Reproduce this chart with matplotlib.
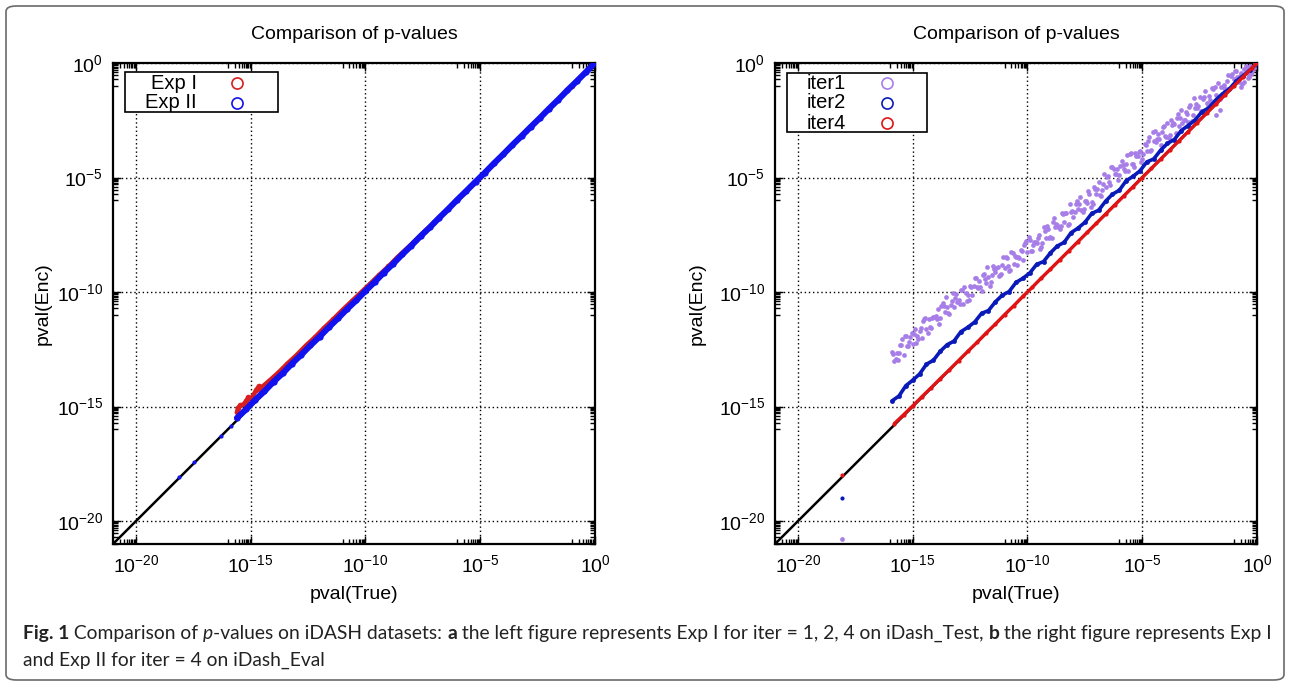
import numpy as np
import matplotlib
matplotlib.use("Agg")
import matplotlib.pyplot as plt
from matplotlib.patches import Rectangle, FancyBboxPatch
from matplotlib.ticker import FixedLocator, FixedFormatter, NullFormatter

plt.rcParams['font.family'] = ['Liberation Sans', 'DejaVu Sans']
plt.rcParams['mathtext.fontset'] = 'custom'
plt.rcParams['mathtext.rm'] = 'Liberation Sans'
plt.rcParams['mathtext.it'] = 'Liberation Sans:italic'
plt.rcParams['mathtext.bf'] = 'Liberation Sans:bold'

# ---------------- data (log10 of p-values) ----------------
tick_exponents = [-20, -15, -10, -5, 0]
axis_limit_exp = [-21, 0]
reference_line_exp = [-21, 0]

# Left panel: Exp I (red) and Exp II (blue)
exp1_x = [-15.6, -15.55, -15.45, -15.3, -15.2, -15.1, -15.0, -14.75, -14.65, -14.6, -14.2, -13.8,
          -13.4, -13.0, -12.6, -12.2, -11.8, -11.4, -11.0, -10.6, -10.2, -9.8, -9.4, -9.0,
          -8.6, -8.2, -7.8, -7.4, -7.0, -6.0, -5.0, -4.0, -3.0, -2.0, -1.0, 0.0]
exp1_y = [-15.25, -15.05, -14.95, -14.9, -14.75, -14.6, -14.68, -14.27, -14.12, -14.22, -13.88, -13.52,
          -13.12, -12.75, -12.34, -11.97, -11.56, -11.18, -10.78, -10.4, -10.02, -9.64, -9.25, -8.88,
          -8.47, -8.1, -7.72, -7.34, -6.95, -5.97, -4.98, -3.98, -2.99, -1.99, -1.0, 0.0]

exp2_x = [-15.6, -15.2, -14.8, -14.4, -14.0, -13.6, -13.2, -12.8, -12.4, -12.0, -11.6, -11.2,
          -10.8, -10.4, -10.0, -9.6, -9.2, -8.8, -8.4, -8.0, -7.6, -7.2, -6.8, -6.4, -6.0,
          -5.6, -5.2, -4.8, -4.4, -4.0, -3.6, -3.2, -2.8, -2.4, -2.0, -1.6, -1.2, -0.8, -0.4, 0.0]
exp2_y = [-15.5, -15.12, -14.7, -14.33, -13.91, -13.54, -13.12, -12.74, -12.33, -11.95, -11.54, -11.15,
          -10.74, -10.36, -9.95, -9.56, -9.15, -8.77, -8.36, -7.97, -7.56, -7.18, -6.77, -6.38, -5.97,
          -5.58, -5.18, -4.79, -4.38, -3.99, -3.58, -3.19, -2.79, -2.4, -1.99, -1.6, -1.19, -0.8, -0.4, 0.0]
exp2_isolated_x = [-18.12, -17.47, -16.29, -15.85]
exp2_isolated_y = [-18.08, -17.43, -16.3, -15.86]

# Right panel: iter1 (purple), iter2 (blue), iter4 (red)
iter1_x = [-15.9, -15.7, -15.5, -15.3, -15.1, -14.9, -14.7, -14.5, -14.3, -14.1, -13.9, -13.7, -13.5, -13.3,
           -13.1, -12.9, -12.7, -12.5, -12.3, -12.1, -11.9, -11.7, -11.5, -11.3, -11.1, -10.9, -10.7, -10.5,
           -10.3, -10.1, -9.9, -9.7, -9.5, -9.3, -9.1, -8.9, -8.7, -8.5, -8.3, -8.1, -7.9, -7.7, -7.5, -7.3,
           -7.1, -6.9, -6.7, -6.5, -6.3, -6.1, -5.9, -5.7, -5.5, -5.3, -5.1, -4.9, -4.7, -4.5, -4.3, -4.1,
           -3.9, -3.7, -3.5, -3.3, -3.1, -2.9, -2.7, -2.5, -2.3, -2.1, -1.9, -1.7, -1.5, -1.3, -1.1, -0.9,
           -0.7, -0.5, -0.3, -0.1,
           -15.8, -15.6, -15.4, -15.2, -15.0, -14.8, -14.6, -14.4, -14.2, -14.0, -13.8, -13.6, -13.4, -13.2,
           -13.0, -12.8, -12.6, -12.4, -12.2, -12.0, -11.8, -11.6, -11.4, -11.2, -11.0, -10.8, -10.6, -10.4,
           -10.2, -10.0, -9.8, -9.6, -9.4, -9.2, -9.0, -8.8, -8.6, -8.4, -8.2, -8.0, -7.8, -7.6, -7.4, -7.2,
           -7.0, -6.8, -6.6, -6.4, -6.2, -6.0, -5.8, -5.6, -5.4, -5.2, -5.0, -4.8, -4.6, -4.4, -4.2, -4.0,
           -3.8, -3.6, -3.4, -3.2, -3.0, -2.8, -2.6, -2.4, -2.2, -2.0, -1.8, -1.6, -1.4, -1.2, -1.0, -0.8,
           -0.6, -0.4, -0.2,
           -15.85, -15.65, -15.45, -15.25, -15.05, -14.85, -14.65, -14.45, -14.25, -14.05, -13.85, -13.65,
           -13.45, -13.25, -13.05, -12.85, -12.65, -12.45, -12.25, -12.05, -11.85, -11.65, -11.45, -11.25,
           -11.05, -10.85, -10.65, -10.45, -10.25, -10.05, -9.85, -9.65, -9.45, -9.25, -9.05, -8.85, -8.65,
           -8.45, -8.25, -8.05, -7.85, -7.65, -7.45, -7.25, -7.05, -6.85, -6.65, -6.45, -6.25, -6.05, -5.85,
           -5.65, -5.45, -5.25, -5.05, -4.85, -4.65, -4.45, -4.25, -4.05, -3.85, -3.65, -3.45, -3.25, -3.05,
           -2.85, -2.65, -2.45, -2.25, -2.05, -1.85, -1.65, -1.45, -1.25, -1.05, -0.85, -0.65, -0.45, -0.25,
           -15.75, -15.55, -15.35, -15.15, -14.95, -14.75, -14.55, -14.35, -14.15, -13.95, -13.75, -13.55,
           -13.35, -13.15, -12.95, -12.75, -12.55, -12.35, -12.15, -11.95, -11.75, -11.55, -11.35, -11.15,
           -10.95, -10.75, -10.55, -10.35, -10.15, -9.95, -9.75, -9.55, -9.35, -9.15, -8.95, -8.75, -8.55,
           -8.35, -8.15, -7.95, -7.75, -7.55, -7.35, -7.15, -6.95, -6.75, -6.55, -6.35, -6.15, -5.95, -5.75,
           -5.55, -5.35, -5.15, -4.95, -4.75, -4.55, -4.35, -4.15, -3.95, -3.75, -3.55, -3.35, -3.15, -2.95,
           -2.75, -2.55, -2.35, -2.15, -1.95, -1.75, -1.55, -1.35, -1.15, -0.95, -0.75, -0.55, -0.35, -0.15,
           -1.8, -1.6, -0.7, -0.55, -0.35, -18.08]
iter1_y = [-12.6, -12.65, -12.3, -11.92, -11.98, -11.63, -11.72, -11.19, -11.17, -11.07, -10.73, -10.46, -10.65, -10.38,
           -10.08, -9.92, -10.02, -9.72, -9.39, -9.5, -9.21, -9.34, -8.87, -8.89, -8.84, -8.53, -8.26, -8.45,
           -8.18, -7.88, -7.72, -7.81, -7.5, -7.16, -7.26, -6.95, -7.06, -6.57, -6.57, -6.5, -6.17, -5.87, -6.03, -5.73,
           -5.4, -5.21, -5.27, -4.93, -4.56, -4.63, -4.3, -4.41, -3.92, -3.92, -3.85, -3.52, -3.23, -3.4, -3.11, -2.79,
           -2.62, -2.71, -2.4, -2.06, -2.16, -1.85, -1.97, -1.49, -1.5, -1.44, -1.13, -0.86, -1.05, -0.78, -0.48, -0.33,
           -0.44, -0.15, -0.11, -0.03,
           -13.02, -12.65, -12.75, -12.35, -12.28, -11.91, -12.02, -11.61, -11.55, -11.06, -11.15, -10.87, -10.98, -10.67,
           -10.35, -10.5, -10.15, -10.13, -9.8, -9.95, -9.59, -9.57, -9.13, -9.24, -8.97, -9.08, -8.77, -8.45,
           -8.6, -8.25, -8.22, -7.88, -8.02, -7.64, -7.6, -7.14, -7.23, -6.94, -7.04, -6.72, -6.37, -6.49, -6.11, -6.06,
           -5.7, -5.82, -5.41, -5.34, -4.85, -4.91, -4.61, -4.71, -4.39, -4.06, -4.2, -3.83, -3.79, -3.44, -3.57, -3.18,
           -3.14, -2.68, -2.77, -2.48, -2.58, -2.27, -1.95, -2.1, -1.75, -1.73, -1.4, -1.55, -1.18, -1.15, -0.7, -0.81,
           -0.54, -0.66, -0.36,
           -12.7, -12.95, -12.03, -12.37, -11.77, -12.23, -11.59, -11.12, -11.51, -11.1, -11.38, -10.63,
           -10.93, -10.06, -10.45, -9.9, -10.41, -9.8, -9.38, -9.8, -9.44, -9.75, -9.01, -9.32,
           -8.46, -8.85, -8.3, -8.81, -8.2, -7.78, -8.2, -7.82, -8.11, -7.35, -7.64, -6.76, -7.14,
           -6.58, -7.08, -6.46, -6.02, -6.41, -6.01, -6.28, -5.5, -5.77, -4.86, -5.21, -4.62, -5.09, -4.45,
           -4.02, -4.43, -4.05, -4.34, -3.57, -3.85, -2.96, -3.33, -2.76, -3.26, -2.64, -2.21, -2.62, -2.24,
           -2.53, -1.78, -2.08, -1.21, -1.6, -1.05, -1.56, -0.95, -0.53, -0.95, -0.59, -0.9, -0.21, -0.47,
           -12.93, -12.33, -11.9, -12.2, -11.85, -12.06, -11.28, -11.8, -11.15, -11.19, -10.61, -10.23,
           -10.58, -10.28, -10.53, -9.78, -10.35, -9.73, -9.81, -9.26, -8.89, -9.25, -8.96, -9.22,
           -8.48, -9.05, -8.43, -8.51, -7.96, -7.58, -7.93, -7.62, -7.86, -7.1, -7.66, -7.03, -7.1,
           -6.54, -6.15, -6.49, -6.17, -6.39, -5.61, -6.15, -5.5, -5.55, -4.96, -4.54, -4.85, -4.51, -4.73,
           -3.97, -4.53, -3.9, -3.97, -3.4, -3.0, -3.33, -3.01, -3.24, -2.48, -3.04, -2.41, -2.48, -1.92,
           -1.54, -1.89, -1.59, -1.84, -1.09, -1.66, -1.04, -1.12, -0.57, -0.35, -0.56, -0.27, -0.53, -0.2,
           -2.25, -2.05, -1.05, -0.85, -0.6, -20.78]

iter2_x = [-15.9, -15.6, -15.3, -15.0, -14.7, -14.4, -14.1, -13.8, -13.5, -13.2, -12.9, -12.6, -12.3, -12.0,
           -11.7, -11.4, -11.1, -10.8, -10.5, -10.2, -9.9, -9.6, -9.3, -9.0, -8.7, -8.4, -8.1, -7.8, -7.5,
           -7.2, -6.9, -6.6, -6.3, -6.0, -5.7, -5.4, -5.1, -4.8, -4.5, -4.2, -3.9, -3.6, -3.3, -3.0, -2.7,
           -2.4, -2.1, -1.8, -1.5, -1.2, -0.9, -0.6, -0.3, 0.0]
iter2_y = [-14.75, -14.54, -14.09, -13.85, -13.58, -13.15, -12.98, -12.59, -12.3, -12.14, -11.73, -11.54, -11.31, -10.93,
           -10.81, -10.43, -10.14, -9.98, -9.58, -9.4, -9.17, -8.79, -8.67, -8.29, -7.99, -7.83, -7.41, -7.21, -6.96,
           -6.57, -6.43, -6.04, -5.73, -5.56, -5.14, -4.95, -4.71, -4.32, -4.19, -3.81, -3.51, -3.34, -2.95, -2.73, -2.49,
           -2.13, -1.96, -1.62, -1.34, -1.13, -0.79, -0.55, -0.3, -0.02]
iter2_isolated_x = [-18.08]
iter2_isolated_y = [-18.98]

iter4_x = [-15.8, -15.4, -15.0, -14.6, -14.2, -13.8, -13.4, -13.0, -12.6, -12.2, -11.8, -11.4, -11.0, -10.6,
           -10.2, -9.8, -9.4, -9.0, -8.6, -8.2, -7.8, -7.4, -7.0, -6.6, -6.2, -5.8, -5.4, -5.0, -4.6, -4.2,
           -3.8, -3.4, -3.0, -2.6, -2.2, -1.8, -1.4, -1.0, -0.6, -0.2, 0.0]
iter4_y = [-15.74, -15.36, -14.97, -14.57, -14.18, -13.78, -13.39, -12.99, -12.59, -12.2, -11.79, -11.4, -10.99, -10.6,
           -10.19, -9.8, -9.39, -9.0, -8.6, -8.2, -7.8, -7.4, -7.0, -6.6, -6.2, -5.8, -5.4, -5.0, -4.6, -4.2,
           -3.8, -3.4, -3.0, -2.6, -2.2, -1.8, -1.4, -1.0, -0.6, -0.2, 0.0]
iter4_isolated_x = [-18.08]
iter4_isolated_y = [-18.0]

left_legend_labels = ["Exp I", "Exp II"]
right_legend_labels = ["iter1", "iter2", "iter4"]

title_text = "Comparison of p-values"
xlabel_text = "pval(True)"
ylabel_text = "pval(Enc)"

caption_line1 = [("Fig. 1", "bold", "normal"), (" Comparison of ", "normal", "normal"),
                 ("p", "normal", "italic"), ("-values on iDASH datasets: ", "normal", "normal"),
                 ("a", "bold", "normal"),
                 (" the left figure represents Exp I for iter = 1, 2, 4 on iDash_Test, ", "normal", "normal"),
                 ("b", "bold", "normal"), (" the right figure represents Exp I", "normal", "normal")]
caption_line2 = [("and Exp II for iter = 4 on iDash_Eval", "normal", "normal")]

# colours
C_RED = '#d81e1e'
C_BLUE = '#1212ee'
C_PURPLE = '#a77ee8'
C_NAVY = '#0a1ab8'
C_RED2 = '#e01414'


def p(v):
    return 10.0 ** np.asarray(v, dtype=float)


W, H = 1290, 683
fig = plt.figure(figsize=(W / 100, H / 100), dpi=100)

# outer rounded frame
fig.patches.append(FancyBboxPatch((6 / W, 1 - 680 / H), 1278 / W, 674 / H,
                                  boxstyle="round,pad=0,rounding_size=0.008",
                                  transform=fig.transFigure, fill=False,
                                  edgecolor='#6a6a6a', linewidth=1.2))

ax_l = fig.add_axes([113 / W, 1 - 544 / H, 482 / W, 481 / H])
ax_r = fig.add_axes([775 / W, 1 - 544 / H, 482 / W, 481 / H])


def style_axes(ax, ylab_x):
    ax.set_xscale('log')
    ax.set_yscale('log')
    lo, hi = p(axis_limit_exp)
    ax.set_xlim(lo, hi)
    ax.set_ylim(lo, hi)
    majors = p(tick_exponents)
    minors = []
    for m in tick_exponents:
        for k in range(1, 10):
            minors.append(k * 10.0 ** (m - 1))
    labels = [r'$\mathregular{10^{%d}}$' % e for e in tick_exponents]
    for axis in (ax.xaxis, ax.yaxis):
        axis.set_major_locator(FixedLocator(majors))
        axis.set_major_formatter(FixedFormatter(labels))
        axis.set_minor_locator(FixedLocator(minors))
        axis.set_minor_formatter(NullFormatter())
    ax.tick_params(which='both', direction='in', top=True, right=True, colors='black',
                   labelsize=14, width=1.0)
    ax.tick_params(which='major', length=6, pad=7)
    ax.tick_params(which='minor', length=3.5)
    ax.grid(True, which='major', color='black', linestyle=(0, (1, 2)), linewidth=1.0)
    ax.set_axisbelow(True)
    for s in ax.spines.values():
        s.set_linewidth(1.6)
        s.set_color('black')
    ax.set_title(title_text, fontsize=14, pad=17)
    ax.set_xlabel(xlabel_text, fontsize=14)
    ax.set_ylabel(ylabel_text, fontsize=14)
    ax.xaxis.set_label_coords(0.5, -0.088)
    ax.yaxis.set_label_coords(ylab_x, 0.5)
    ref = p(reference_line_exp)
    ax.plot(ref, ref, color='black', linewidth=1.8, zorder=2)


style_axes(ax_l, -0.127)
style_axes(ax_r, -0.143)

# left panel data
ax_l.plot(p(exp1_x), p(exp1_y), color=C_RED, linewidth=3.2, marker='o', markersize=4,
          markeredgewidth=0, zorder=3, solid_capstyle='round')
ax_l.plot(p(exp2_x), p(exp2_y), color=C_BLUE, linewidth=4.4, marker='o', markersize=4.5,
          markeredgewidth=0, zorder=4, solid_capstyle='round')
ax_l.plot(p(exp2_isolated_x), p(exp2_isolated_y), linestyle='none', color=C_BLUE, marker='o',
          markersize=3, markeredgewidth=0, zorder=4)

# right panel data
ax_r.plot(p(iter1_x), p(iter1_y), linestyle='none', color=C_PURPLE, marker='o', markersize=3.4,
          markeredgewidth=0, zorder=3)
ax_r.plot(p(iter2_x), p(iter2_y), color=C_NAVY, linewidth=2.6, marker='o', markersize=3.5,
          markeredgewidth=0, zorder=4, solid_capstyle='round')
ax_r.plot(p(iter2_isolated_x), p(iter2_isolated_y), linestyle='none', color=C_NAVY, marker='o',
          markersize=3, markeredgewidth=0, zorder=4)
ax_r.plot(p(iter4_x), p(iter4_y), color=C_RED2, linewidth=2.4, marker='o', markersize=3,
          markeredgewidth=0, zorder=5, solid_capstyle='round')
ax_r.plot(p(iter4_isolated_x), p(iter4_isolated_y), linestyle='none', color=C_RED2, marker='o',
          markersize=3, markeredgewidth=0, zorder=5)


def draw_legend(ax, box, labels, colors, text_x, marker_x, rows_y):
    x0, y0, x1, y1 = box
    ax.add_patch(Rectangle((x0, y0), x1 - x0, y1 - y0, transform=ax.transAxes,
                           facecolor='white', edgecolor='black', linewidth=1.2, zorder=10))
    for lab, col, yy in zip(labels, colors, rows_y):
        ax.text(text_x, yy, lab, transform=ax.transAxes, ha='right', va='center',
                fontsize=14.5, zorder=11)
        ax.plot([marker_x], [yy], transform=ax.transAxes, marker='o', markersize=8,
                markerfacecolor='none', markeredgecolor=col, markeredgewidth=1.2,
                linestyle='none', zorder=11, clip_on=False)


draw_legend(ax_l, (0.0249, 0.898, 0.342, 0.981), left_legend_labels, [C_RED, C_BLUE],
            0.174, 0.257, [0.958, 0.917])
draw_legend(ax_r, (0.0249, 0.857, 0.315, 0.979), right_legend_labels, [C_PURPLE, C_NAVY, C_RED2],
            0.147, 0.232, [0.958, 0.917, 0.875])

# caption (rich text, fitted to the measured line width)
renderer = fig.canvas.get_renderer()
CAP_FAMILY = ['Lato', 'DejaVu Sans']


def measure(pieces, size):
    total = 0
    for txt, wt, st in pieces:
        t = fig.text(0, 0, txt, fontsize=size, fontweight=wt, fontstyle=st, family=CAP_FAMILY)
        total += t.get_window_extent(renderer).width
        t.remove()
    return total


def draw_pieces(pieces, x_px, y_px, size):
    x = x_px
    for txt, wt, st in pieces:
        t = fig.text(x / W, 1 - y_px / H, txt, fontsize=size, fontweight=wt, fontstyle=st,
                     family=CAP_FAMILY, ha='left', va='baseline', color='#222222')
        x += t.get_window_extent(renderer).width


w0 = measure(caption_line1, 12)
cap_size = 12 * (1245 / w0)
draw_pieces(caption_line1, 23, 639, cap_size)
draw_pieces(caption_line2, 23, 666, cap_size)

fig.savefig('out.png', dpi=100)
